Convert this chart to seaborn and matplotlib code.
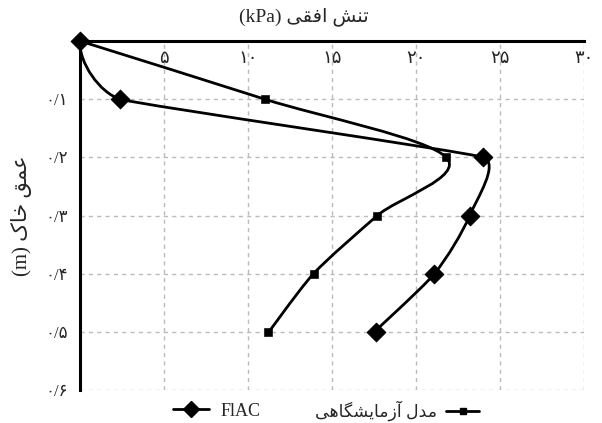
import numpy as np
import pandas as pd
import seaborn as sns
import matplotlib.pyplot as plt
from matplotlib.path import Path
from matplotlib.patches import PathPatch
from matplotlib.lines import Line2D

# data
depth = [0.0, 0.1, 0.2, 0.3, 0.4, 0.5]
flac_stress = [0.0, 2.4, 24.0, 23.2, 21.1, 17.6]
lab_stress = [0.0, 11.0, 21.8, 17.7, 13.9, 11.2]

x_ticks = [5, 10, 15, 20, 25, 30]
y_ticks = [0.1, 0.2, 0.3, 0.4, 0.5, 0.6]
fa_digits = str.maketrans('0123456789', '۰۱۲۳۴۵۶۷۸۹')
x_labels = [str(v).translate(fa_digits) for v in x_ticks]
y_labels = [('0/' + str(int(round(v * 10)))).translate(fa_digits) for v in y_ticks]

# Persian text, pre-shaped and in visual order (matplotlib does no bidi shaping)
x_title = '(kPa) ' + '\ufef0\ufed8\ufed3\ufe8d \ufeb6\ufee8\ufe97'
y_title = '(m) ' + '\u06a9\ufe8e\ufea7 \ufed6\ufee4\ufecb'
flac_name = 'FlAC'
lab_name = '\ufef0\ufeeb\ufe8e\ufb95\ufeb8\ufef3\ufe8e\ufee3\ufeaf\ufe81 \ufedd\ufeaa\ufee3'

sns.set_style('white')
plt.rcParams['font.family'] = ['Liberation Serif', 'DejaVu Sans']

df = pd.DataFrame({
    'stress': flac_stress + lab_stress,
    'depth': depth + depth,
    'model': ['flac'] * len(depth) + ['lab'] * len(depth),
})

fig = plt.figure(figsize=(6.02, 4.23), dpi=100)
ax = fig.add_axes([0.133, 0.078, 0.837, 0.825])


def smooth_path(xs, ys, k=0.3):
    # spreadsheet-like smoothed line: tangent along the neighbour chord,
    # control distance limited by the shorter adjacent segment (screen px)
    sx = 504 / 30.0
    sy = 349 / 0.6
    pts = np.column_stack([np.asarray(xs) * sx, np.asarray(ys) * sy])
    n = len(pts)
    segs = [np.hypot(*(pts[i + 1] - pts[i])) for i in range(n - 1)]
    dirs, lim = [], []
    for i in range(n):
        d = pts[min(i + 1, n - 1)] - pts[max(i - 1, 0)]
        dirs.append(d / np.hypot(*d))
        adj = [segs[j] for j in (i - 1, i) if 0 <= j < n - 1]
        lim.append(min(adj))
    # end tangents: mirror the neighbour tangent about the end chord
    for i, j in ((0, 1), (n - 1, n - 2)):
        u = pts[j] - pts[i]
        u = u / np.hypot(*u)
        m = 2 * u * np.dot(u, dirs[j]) - dirs[j]
        dirs[i] = m if i == 0 else -m
    verts = [pts[0]]
    codes = [Path.MOVETO]
    for i in range(n - 1):
        c1 = pts[i] + dirs[i] * k * min(lim[i], segs[i])
        c2 = pts[i + 1] - dirs[i + 1] * k * min(lim[i + 1], segs[i])
        verts += [c1, c2, pts[i + 1]]
        codes += [Path.CURVE4] * 3
    verts = np.array(verts) / [sx, sy]
    return Path(verts, codes)


for xs in (flac_stress, lab_stress):
    ax.add_patch(PathPatch(smooth_path(xs, depth), fill=False, ec='black',
                           lw=2.0, capstyle='round', joinstyle='round',
                           clip_on=False, zorder=3))

sns.scatterplot(data=df[df.model == 'lab'], x='stress', y='depth', ax=ax,
                marker='s', s=30, color='black', edgecolor='black',
                legend=False, zorder=4, clip_on=False)
sns.scatterplot(data=df[df.model == 'flac'], x='stress', y='depth', ax=ax,
                marker='D', s=90, color='black', edgecolor='black',
                legend=False, zorder=5, clip_on=False)

ax.set_xlim(0, 30)
ax.set_ylim(0.6, 0)
ax.xaxis.tick_top()
ax.xaxis.set_label_position('top')
ax.set_xticks(x_ticks)
ax.set_xticklabels(x_labels, fontsize=13)
ax.set_yticks(y_ticks)
ax.set_yticklabels(y_labels, fontsize=12)
ax.tick_params(axis='x', length=0, pad=-19)
ax.tick_params(axis='y', length=0, pad=9)
ax.set_xlabel(x_title, fontsize=14)
ax.xaxis.set_label_coords(0.445, 1.055)
ax.set_ylabel(y_title, fontsize=15)
ax.yaxis.set_label_coords(-0.095, 0.5)

ax.grid(True, color='#bbbbbb', linestyle=(0, (3, 3)), linewidth=1)
for side in ('right', 'bottom'):
    ax.spines[side].set_visible(False)
for side in ('left', 'top'):
    ax.spines[side].set_linewidth(2.2)
    ax.spines[side].set_color('black')

flac_handle = Line2D([], [], color='black', lw=2, marker='D', markersize=8)
lab_handle = Line2D([], [], color='black', lw=2, marker='s', markersize=5)
fig.legend(handles=[flac_handle], labels=[flac_name], loc='center',
           bbox_to_anchor=(0.36, 0.028), frameon=False, fontsize=13,
           handlelength=2.0, handletextpad=0.6)
fig.legend(handles=[lab_handle], labels=[lab_name], loc='center',
           bbox_to_anchor=(0.66, 0.028), frameon=False, fontsize=12.5,
           handlelength=1.9, handletextpad=0.5, markerfirst=False)

plt.savefig('out.png', dpi=100)
